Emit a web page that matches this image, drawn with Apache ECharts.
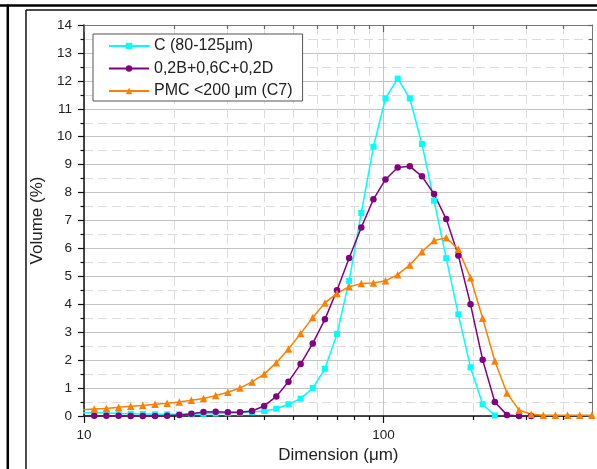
<!DOCTYPE html>
<html>
<head>
<meta charset="utf-8">
<script src="https://cdn.jsdelivr.net/npm/echarts@6/dist/echarts.min.js"></script>
<style>
html,body{margin:0;padding:0;background:#fff;}
#c{width:597px;height:469px;}
</style>
</head>
<body>
<div id="c"></div>
<script>
// Particle size classes (µm)
var sizes = [9.86, 10.82, 11.88, 13.05, 14.32, 15.72, 17.27, 18.95, 20.81, 22.84, 25.07, 27.53, 30.22, 33.18, 36.42, 39.98, 43.89, 48.19, 52.90, 58.07, 63.76, 69.98, 76.83, 84.35, 92.60, 101.6, 111.6, 122.5, 134.5, 147.6, 162.1, 177.9, 195.4, 214.5, 235.5, 258.5, 283.8, 311.5, 342.0, 375.4, 412.2, 452.5, 496.8];

// Volume (%) per series
var volC = [0.12, 0.12, 0.11, 0.09, 0.08, 0.07, 0.06, 0.06, 0.06, 0.06, 0.08, 0.09, 0.10, 0.12, 0.14, 0.18, 0.26, 0.42, 0.62, 1.00, 1.69, 2.94, 4.84, 7.27, 9.64, 11.37, 12.08, 11.37, 9.74, 7.71, 5.65, 3.64, 1.74, 0.42, 0.02];
var volMix = [0.01, 0.01, 0.01, 0.01, 0.0, 0.0, 0.0, 0.01, 0.04, 0.08, 0.14, 0.15, 0.13, 0.13, 0.18, 0.36, 0.70, 1.23, 1.86, 2.60, 3.46, 4.50, 5.66, 6.75, 7.76, 8.47, 8.90, 8.94, 8.58, 7.95, 7.05, 5.75, 4.00, 2.01, 0.50, 0.04, 0.0, 0.0];
var volPMC = [0.22, 0.25, 0.27, 0.31, 0.35, 0.38, 0.42, 0.46, 0.50, 0.56, 0.63, 0.73, 0.85, 1.00, 1.22, 1.50, 1.91, 2.40, 2.95, 3.53, 4.05, 4.39, 4.63, 4.74, 4.76, 4.84, 5.06, 5.41, 5.88, 6.28, 6.38, 5.97, 4.95, 3.50, 1.97, 0.82, 0.21, 0.06, 0.03, 0.03, 0.03, 0.03, 0.03];

var seriesNames = ['C (80-125μm)', '0,2B+0,6C+0,2D', 'PMC <200 μm (C7)'];
var xMajorTicks = [10, 100];
var xMinorTicks = [20, 30, 40, 50, 60, 70, 80, 90, 200, 300, 400];
var xMin = 10, xMax = 500;
var yMin = 0, yMax = 14, yStep = 1;

function pairs(ys) {
  return ys.map(function (v, i) { return [sizes[i], v]; });
}

var FONT = 'Liberation Sans, Arial, sans-serif';
var grid = {left: 84, top: 25, width: 508.7, height: 391};

function xAx(pos, minor, main) {
  var inside = pos === 'top';
  return {
    type: 'log', logBase: 10, min: xMin, max: xMax, position: pos,
    axisLine: {show: main, onZero: false, lineStyle: {color: pos === 'top' ? '#777' : '#111', width: pos === 'top' ? 1 : 1.5}},
    axisTick: {show: true, inside: inside, length: minor ? 4 : 7,
      customValues: minor ? xMinorTicks : xMajorTicks,
      lineStyle: {color: pos === 'top' ? '#666' : '#111', width: 1.2}},
    axisLabel: {show: pos === 'bottom' && !minor, margin: 12, color: '#222', fontSize: 13.5, fontFamily: FONT,
      customValues: xMajorTicks},
    splitLine: {show: pos === 'bottom', lineStyle: minor ? {color: '#dcdcdc', width: 1, type: [9, 5]} : {color: '#c4c4c4', width: 1}},
    name: (pos === 'bottom' && main) ? 'Dimension (μm)' : '',
    nameLocation: 'middle', nameGap: 29,
    nameTextStyle: {fontSize: 17, color: '#222', fontFamily: FONT}
  };
}

var option = {
  animation: false,
  backgroundColor: '#fff',
  grid: grid,
  legend: {
    orient: 'vertical', left: 93, top: 34,
    backgroundColor: '#fff', borderColor: '#555', borderWidth: 1,
    padding: [4, 10, 2, 15], itemGap: 6.5, itemWidth: 40, itemHeight: 8,
    textStyle: {fontSize: 16, color: '#222', fontFamily: FONT},
    data: seriesNames
  },
  xAxis: [
    xAx('bottom', false, true),
    xAx('bottom', true, false),
    xAx('top', false, true),
    xAx('top', true, false)
  ],
  yAxis: [
    {
      type: 'value', min: yMin, max: yMax, interval: yStep, position: 'left',
      axisLine: {show: true, onZero: false, lineStyle: {color: '#111', width: 1.5}},
      axisTick: {show: true, inside: false, length: 6, lineStyle: {color: '#111', width: 1.2}},
      minorTick: {show: true, splitNumber: 2, length: 3.5, lineStyle: {color: '#111', width: 1.2}},
      axisLabel: {margin: 12, color: '#222', fontSize: 13.5, fontFamily: FONT},
      splitLine: {show: true, lineStyle: {color: '#c4c4c4', width: 1}},
      minorSplitLine: {show: true, lineStyle: {color: '#dcdcdc', width: 1, type: [9, 5]}},
      name: 'Volume (%)', nameLocation: 'middle', nameGap: 36,
      nameTextStyle: {fontSize: 17, color: '#222', fontFamily: FONT}
    },
    {
      type: 'value', min: yMin, max: yMax, interval: yStep, position: 'right',
      axisLine: {show: true, onZero: false, lineStyle: {color: '#777', width: 1}},
      axisTick: {show: true, inside: true, length: 5, lineStyle: {color: '#666', width: 1.2}},
      minorTick: {show: true, splitNumber: 2, length: 4, lineStyle: {color: '#666', width: 1.2}},
      axisLabel: {show: false},
      splitLine: {show: false}
    }
  ],
  series: [
    {
      name: seriesNames[0], type: 'line', xAxisIndex: 0, yAxisIndex: 0,
      data: pairs(volC), symbol: 'rect', symbolSize: 6, clip: true,
      lineStyle: {color: '#00ffff', width: 1.5}, itemStyle: {color: '#00ffff'}
    },
    {
      name: seriesNames[1], type: 'line', xAxisIndex: 0, yAxisIndex: 0,
      data: pairs(volMix), symbol: 'circle', symbolSize: 6.5, clip: true,
      lineStyle: {color: '#800080', width: 1.5}, itemStyle: {color: '#800080'}
    },
    {
      name: seriesNames[2], type: 'line', xAxisIndex: 0, yAxisIndex: 0,
      data: pairs(volPMC), symbol: 'triangle', symbolSize: 7.5, clip: true,
      lineStyle: {color: '#ff8000', width: 1.5}, itemStyle: {color: '#ff8000'}
    }
  ],
  graphic: [
    {type: 'line', shape: {x1: 0, y1: 5.5, x2: 597, y2: 5.5}, style: {stroke: '#000', lineWidth: 2.5}, silent: true},
    {type: 'line', shape: {x1: 26, y1: 10, x2: 597, y2: 10}, style: {stroke: '#111', lineWidth: 1.5}, silent: true},
    {type: 'line', shape: {x1: 7.8, y1: 4.5, x2: 7.8, y2: 469}, style: {stroke: '#000', lineWidth: 2.5}, silent: true},
    {type: 'line', shape: {x1: 26, y1: 10, x2: 26, y2: 469}, style: {stroke: '#111', lineWidth: 1.5}, silent: true}
  ]
};

var chart = echarts.init(document.getElementById('c'), null, {renderer: 'canvas'});
chart.setOption(option);
</script>
</body>
</html>
